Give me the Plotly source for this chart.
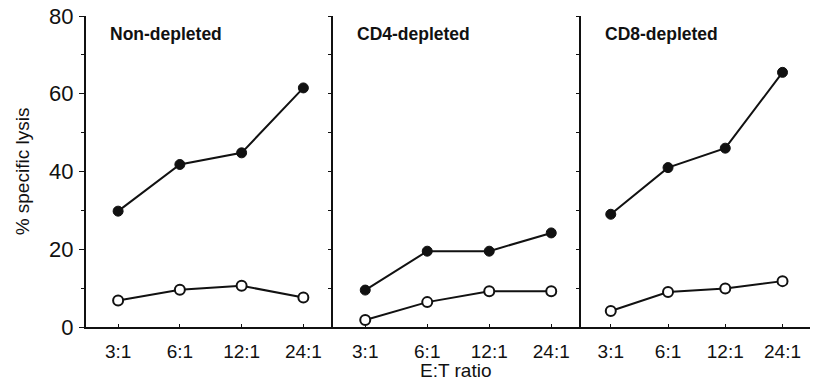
import plotly.graph_objects as go

ratios = ["3:1", "6:1", "12:1", "24:1"]
panels = ["Non-depleted", "CD4-depleted", "CD8-depleted"]
filled = [
    [29.8, 41.8, 44.8, 61.5],
    [9.5, 19.5, 19.5, 24.2],
    [29.0, 41.0, 46.0, 65.5],
]
open_ = [
    [6.8, 9.6, 10.6, 7.6],
    [1.8, 6.4, 9.2, 9.2],
    [4.1, 9.0, 9.9, 11.8],
]
yticks = [0, 20, 40, 60, 80]

W, H = 815, 382
L, R, T, B = 86, 5, 16, 55
pw = W - L - R
ph = H - T - B
bounds = [86, 333, 581, 810]
doms = [[(bounds[i] - L) / pw, (bounds[i + 1] - L) / pw] for i in range(3)]

fig = go.Figure()
font = "Liberation Sans, Arial, sans-serif"
ink = "#111111"

for i in range(3):
    xa = "x" if i == 0 else f"x{i+1}"
    ya = "y" if i == 0 else f"y{i+1}"
    fig.add_trace(go.Scatter(
        x=list(range(4)), y=filled[i], xaxis=xa, yaxis=ya, mode="lines+markers",
        line=dict(color=ink, width=2),
        marker=dict(symbol="circle", size=10, color=ink, line=dict(color=ink, width=1)),
        showlegend=False, cliponaxis=False))
    fig.add_trace(go.Scatter(
        x=list(range(4)), y=open_[i], xaxis=xa, yaxis=ya, mode="lines+markers",
        line=dict(color=ink, width=2),
        marker=dict(symbol="circle", size=10, color="white", line=dict(color=ink, width=2)),
        showlegend=False, cliponaxis=False))
    xkey = "xaxis" if i == 0 else f"xaxis{i+1}"
    ykey = "yaxis" if i == 0 else f"yaxis{i+1}"
    fig.layout[xkey] = dict(
        domain=doms[i], anchor=ya, range=[-0.52, 3.48],
        tickmode="array", tickvals=list(range(4)), ticktext=ratios,
        showline=True, linecolor=ink, linewidth=2, ticks="inside", ticklen=3,
        tickcolor=ink, showgrid=False, zeroline=False, ticklabelstandoff=6,
        tickfont=dict(family=font, size=19, color=ink))
    ydict = dict(
        range=[0, 80], anchor=xa, showline=True, linecolor=ink, linewidth=2,
        showgrid=False, zeroline=False, tickmode="array", tickvals=yticks,
        tickcolor=ink, tickfont=dict(family=font, size=22, color=ink),
        minor=dict(dtick=10, ticks="outside", ticklen=3, tickcolor=ink, tick0=0),
    )
    if i == 0:
        ydict.update(ticks="outside", ticklen=5, ticklabelstandoff=1,
                     title=dict(text="% specific lysis", standoff=14,
                                font=dict(family=font, size=19, color=ink)))
    else:
        ydict.update(matches="y", ticks="outside", ticklen=3, showticklabels=False)
    fig.layout[ykey] = ydict
    fig.add_annotation(
        x=doms[i][0] + 22 / pw, y=1.0 - 6 / ph, xref="paper", yref="paper",
        text="<b>" + panels[i] + "</b>", showarrow=False, xanchor="left", yanchor="top",
        font=dict(family=font, size=17.5, color=ink))

fig.add_annotation(x=(455 - L) / pw, y=-56 / ph, xref="paper", yref="paper",
                   text="E:T ratio", showarrow=False, xanchor="center", yanchor="bottom",
                   font=dict(family=font, size=19, color=ink))

fig.update_layout(width=W, height=H, margin=dict(l=L, r=R, t=T, b=B),
                  plot_bgcolor="white", paper_bgcolor="white")
fig.write_html("out.html")
